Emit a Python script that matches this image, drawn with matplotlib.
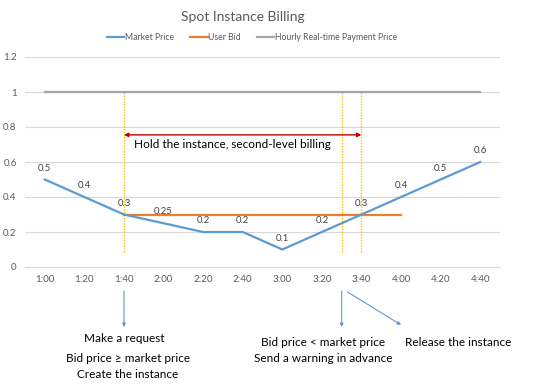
import matplotlib
matplotlib.use("Agg")
import matplotlib.pyplot as plt

plt.rcParams['font.family'] = ['Lato', 'DejaVu Sans']

times = ["1:00", "1:20", "1:40", "2:00", "2:20", "2:40", "3:00",
         "3:20", "3:40", "4:00", "4:20", "4:40"]
market_price = [0.5, 0.4, 0.3, 0.25, 0.2, 0.2, 0.1, 0.2, 0.3, 0.4, 0.5, 0.6]
user_bid_range = (2, 9)          # 1:40 .. 4:00
user_bid = 0.3
hourly_price = 1.0
event_lines = [2, 7.5, 8]        # request, warning, release
yticks = [0, 0.2, 0.4, 0.6, 0.8, 1.0, 1.2]
ytick_labels = ["0", "0.2", "0.4", "0.6", "0.8", "1", "1.2"]

BLUE = "#5B9BD5"
ORANGE = "#ED7D31"
GRAY = "#A5A5A5"
GOLD = "#FFC000"
RED = "#C00000"
TXT = "#595959"

fig = plt.figure(figsize=(5.45, 3.89), dpi=100)
ax = fig.add_axes([25/545, 1-267/389, 475/545, 210/389])

x = list(range(len(times)))
ax.plot(x, market_price, color=BLUE, lw=1.6, label="Market Price", zorder=4)
bx = list(range(user_bid_range[0], user_bid_range[1] + 1))
ax.plot(bx, [user_bid]*len(bx), color=ORANGE, lw=1.6, label="User Bid", zorder=3)
ax.plot(x, [hourly_price]*len(x), color=GRAY, lw=1.6,
        label="Hourly Real-time Payment Price", zorder=3)

for xi, v in zip(x, market_price):
    ax.annotate(f"{v:g}", (xi, v), xytext=(0, 5), textcoords="offset points",
                ha="center", va="bottom", fontsize=6.8, color="#404040")

ax.vlines(event_lines, 0.087, 1.0, colors=GOLD, linestyles=(0, (1, 1)), lw=1.0, zorder=2)

ax.set_xlim(-0.5, len(times) - 0.5)
ax.set_ylim(0, 1.2)
ax.set_xticks(x)
ax.set_xticklabels(times)
ax.set_yticks(yticks)
ax.set_yticklabels(ytick_labels)
ax.tick_params(length=0, labelsize=7, colors=TXT, pad=6)
ax.grid(axis="y", color="#D9D9D9", lw=0.8)
ax.set_axisbelow(True)
for s in ["top", "right", "left"]:
    ax.spines[s].set_visible(False)
ax.spines["bottom"].set_color("#D9D9D9")
ax.spines["bottom"].set_linewidth(0.8)

# Red double arrow
ax.annotate("", xy=(2, 0.755), xytext=(8, 0.755),
            arrowprops=dict(arrowstyle="<|-|>", color=RED, lw=1.0,
                            mutation_scale=6, shrinkA=0, shrinkB=0))
ax.text(2.25, 0.70, "Hold the instance, second-level billing", fontsize=8.5,
        color="black", ha="left", va="center")

# Blue arrows below the axis
arrow_kw = dict(arrowstyle="-|>", color=BLUE, lw=0.8, mutation_scale=5,
                shrinkA=0, shrinkB=0)
ax.annotate("", xy=(2, -0.343), xytext=(2, -0.137), arrowprops=arrow_kw,
            annotation_clip=False)
ax.annotate("", xy=(7.5, -0.343), xytext=(7.5, -0.137), arrowprops=arrow_kw,
            annotation_clip=False)
ax.annotate("", xy=(9.0, -0.331), xytext=(7.65, -0.143), arrowprops=arrow_kw,
            annotation_clip=False)

fig.text(124/545, 1-338/389, "Make a request", ha="center", va="center", fontsize=8.5)
fig.text(128/545, 1-359/389, "Bid price \u2265 market price", ha="center", va="center", fontsize=8.5)
fig.text(128/545, 1-374/389, "Create the instance", ha="center", va="center", fontsize=8.5)
fig.text(323/545, 1-343/389, "Bid price < market price", ha="center", va="center", fontsize=8.5)
fig.text(323/545, 1-358/389, "Send a warning in advance", ha="center", va="center", fontsize=8.5)
fig.text(458/545, 1-343/389, "Release the instance", ha="center", va="center", fontsize=8.5)

fig.text(243/545, 1-17/389, "Spot Instance Billing", ha="center", va="center",
         fontsize=10, color=TXT)
fig.legend(loc="center", bbox_to_anchor=(252/545, 1-38/389), ncol=3, frameon=False,
           fontsize=6.2, handlelength=2.0, handletextpad=0.05, columnspacing=1.9,
           labelcolor=TXT)

fig.savefig("out.png", dpi=100)
